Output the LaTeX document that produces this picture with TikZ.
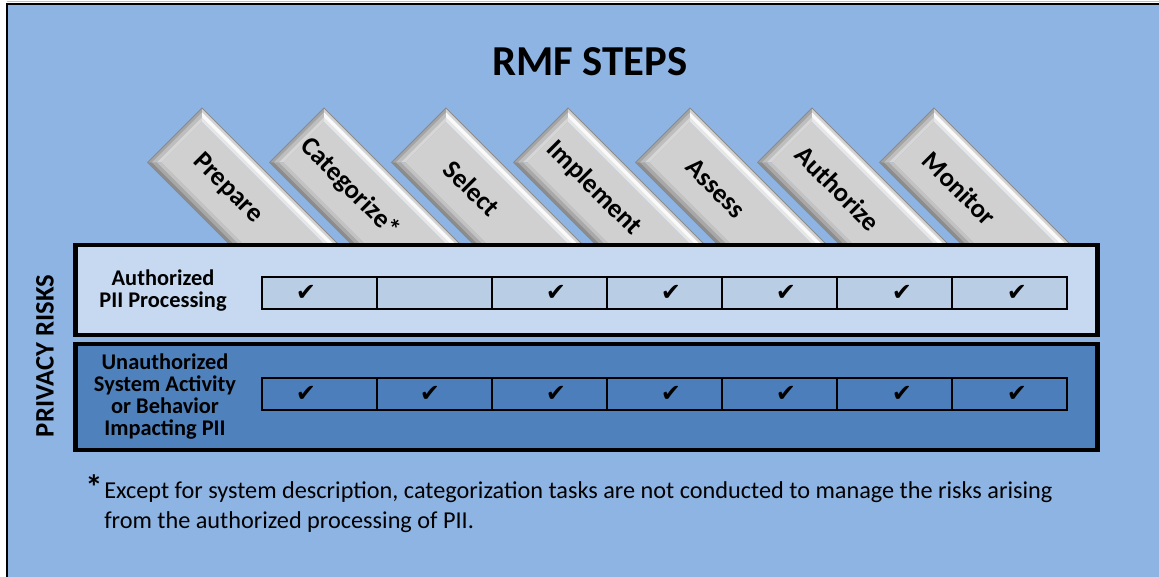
\documentclass[tikz,border=0pt]{standalone}
\usepackage{fontspec}
\setmainfont{Carlito}
\newfontfamily\symfont{DejaVu Sans}
\definecolor{bgblue}{HTML}{8EB4E3}
\definecolor{lightrow}{HTML}{C6D9F1}
\definecolor{lightcell}{HTML}{B9CDE5}
\definecolor{darkrow}{HTML}{4F81BD}
\definecolor{darkcell}{HTML}{4B7EBB}
\definecolor{topA}{HTML}{A4A4A4}
\definecolor{topB}{HTML}{BEBEBE}
\definecolor{topC}{HTML}{D6D6D6}
\definecolor{rightA}{HTML}{D2D2D2}
\definecolor{rightB}{HTML}{FAFAFA}
\definecolor{rightC}{HTML}{E6E6E6}
\definecolor{leftA}{HTML}{8C8C8C}
\definecolor{leftB}{HTML}{A8A8A8}
\definecolor{leftC}{HTML}{C2C2C2}
\definecolor{barmid}{HTML}{D0D0D0}
\definecolor{barline}{HTML}{8A8A8A}
\newcommand\bevelband[4]{%
  \fill[#2] (0,0) -- (0,-77) -- (#1,-77+#1) -- (#1,-#1) -- cycle;
  \fill[#3] (0,0) -- (#1,-#1) -- (260,-#1) -- (260,0) -- cycle;
  \fill[#4] (0,-77) -- (#1,-77+#1) -- (260,-77+#1) -- (260,-77) -- cycle;}
\tikzset{
  rowbox/.style={draw=black, line width=3.6pt},
  cellbox/.style={draw=black, line width=1.2pt},
  checkmark/.style={font=\symfont\fontsize{18}{20}\selectfont, inner sep=0pt},
  barlabel/.style={font=\bfseries\fontsize{20}{24}\selectfont, inner sep=0pt, transform shape},
  rowlabel/.style={font=\bfseries\fontsize{16.8}{16.5}\selectfont, align=center, inner sep=0pt}
}
\begin{document}
\begin{tikzpicture}[x=0.75pt,y=0.75pt]
\useasboundingbox (0,0) rectangle (1159,-577);
\fill[white] (0,0) rectangle (1159,-577);
\fill[bgblue] (7,-4) rectangle (1159,-577);
\draw[black!25, line width=0.8pt] (7,-1.2) -- (1159,-1.2);
\draw[black, line width=1.7pt] (7,-577) -- (7,-4) -- (1159,-4);

\node[font=\bfseries\fontsize{32}{38}\selectfont, inner sep=0pt] (title) at (590,-62) {RMF STEPS};

% slanted step bars
\begin{scope}
\clip (0,0) rectangle (1159,-244);
\foreach \x/\lab/\nm in {202/Prepare/prep, 324/Categorize*/cat, 446/Select/sel, 568/Implement/impl, 690/Assess/ass, 812/Authorize/auth, 934/Monitor/mon}{
  \begin{scope}[shift={(\x,-108)}, rotate=-45]
    \bevelband{10}{topC}{rightC}{leftC}
    \bevelband{6.5}{topB}{rightB}{leftB}
    \bevelband{3}{topA}{rightA}{leftA}
    \fill[barmid] (10,-10) rectangle (260,-67);
    \draw[barline, line width=0.6pt] (260,0) -- (0,0) -- (0,-77) -- (260,-77);
    \node[barlabel] (bar-\nm) at (75,-38.5) {\lab};
  \end{scope}
}
\end{scope}

% rows
\draw[rowbox, fill=lightrow] (75.5,-245) rectangle (1097.5,-335);
\draw[rowbox, fill=darkrow] (75.5,-344) rectangle (1097.5,-450);
\foreach \i in {0,...,6}{
  \draw[cellbox, fill=lightcell] ({262+115*\i},-277) rectangle ++(115,-32);
  \draw[cellbox, fill=darkcell] ({262+115*\i},-378) rectangle ++(115,-32);
}
\foreach \x/\n in {306/1, 556/3, 671/4, 786/5, 902/6, 1017/7}{
  \node[checkmark] (chkA-\n) at (\x,-293) {✔};
}
\foreach \x/\n in {306/1, 430/2, 556/3, 671/4, 786/5, 902/6, 1017/7}{
  \node[checkmark] (chkB-\n) at (\x,-394) {✔};
}

\node[rowlabel] (lab-auth) at (163,-291) {Authorized\\PII Processing};
\node[rowlabel] (lab-unauth) at (165,-397) {Unauthorized\\System Activity\\or Behavior\\Impacting PII};
\node[font=\bfseries\fontsize{20}{24}\selectfont, rotate=90, inner sep=0pt] (privacy) at (45,-356) {PRIVACY RISKS};

% footnote
\node[font=\bfseries\fontsize{26}{26}\selectfont, inner sep=0pt] (star) at (94,-487) {*};
\node[anchor=west, align=left, font=\fontsize{18.2}{22.5}\selectfont, inner sep=0pt] (note) at (104,-507)
  {Except for system description, categorization tasks are not conducted to manage the risks arising\\from the authorized processing of PII.};
\end{tikzpicture}
\end{document}
